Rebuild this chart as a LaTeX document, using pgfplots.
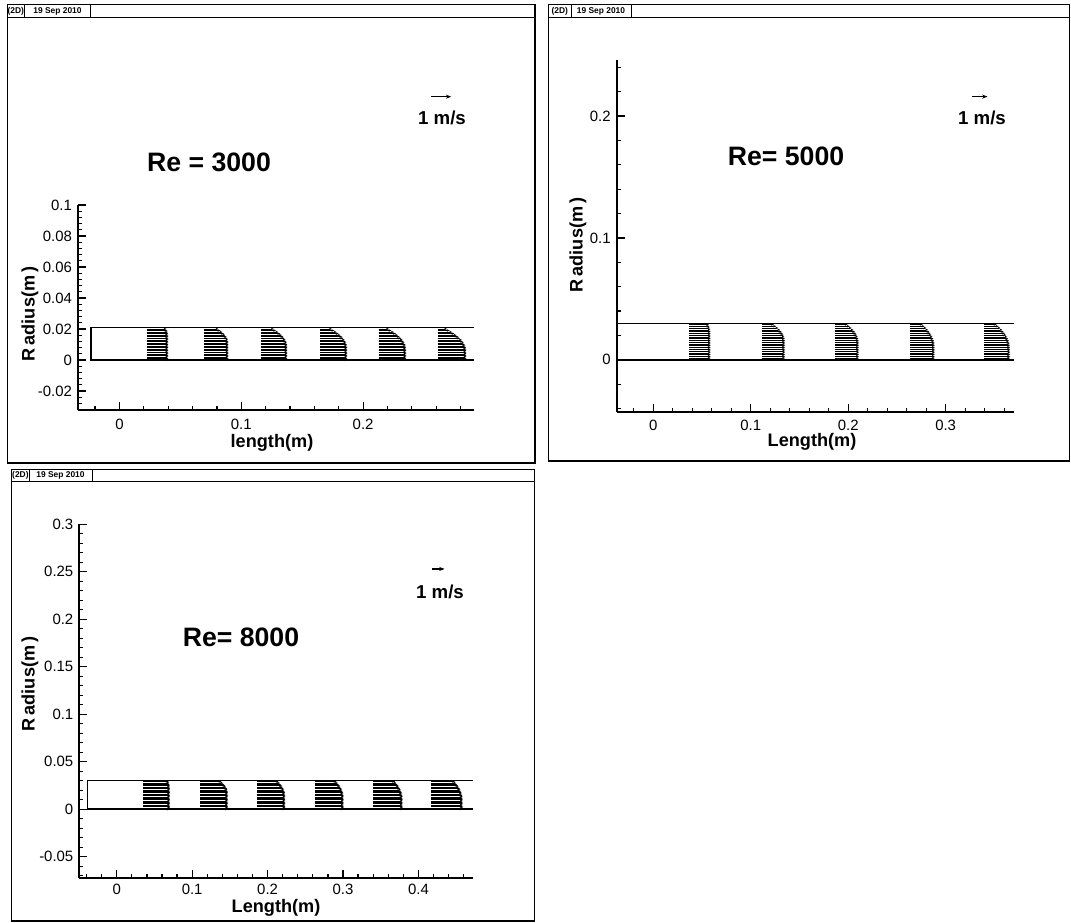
\documentclass[border=0pt]{standalone}
\usepackage{pgfplots}
\pgfplotsset{compat=1.18}
\usepackage{pgfplotstable}
\usepackage{fontspec}
\setmainfont{Liberation Sans}
\usetikzlibrary{arrows.meta}

% Re = 3000 : radius r (m) and axial velocity (m/s) at six stations
\pgfplotstableread{
r u1 u2 u3 u4 u5 u6
0.000 1.04 1.17 1.26 1.30 1.34 1.39
0.001 1.04 1.17 1.26 1.30 1.34 1.39
0.002 1.04 1.17 1.26 1.30 1.34 1.39
0.003 1.04 1.17 1.26 1.30 1.34 1.39
0.004 1.04 1.17 1.26 1.30 1.34 1.39
0.005 1.04 1.17 1.26 1.30 1.34 1.39
0.006 1.04 1.17 1.26 1.30 1.34 1.39
0.007 1.04 1.17 1.26 1.30 1.34 1.39
0.008 1.04 1.17 1.26 1.30 1.33 1.37
0.009 1.04 1.17 1.26 1.29 1.32 1.35
0.010 1.04 1.17 1.25 1.28 1.30 1.31
0.011 1.04 1.17 1.24 1.25 1.26 1.27
0.012 1.04 1.16 1.21 1.22 1.22 1.22
0.013 1.04 1.15 1.17 1.17 1.16 1.16
0.014 1.04 1.12 1.12 1.11 1.10 1.08
0.015 1.04 1.07 1.06 1.05 1.02 1.00
0.016 1.04 1.02 0.99 0.97 0.94 0.91
0.017 1.03 0.95 0.91 0.88 0.84 0.81
0.018 1.02 0.87 0.82 0.78 0.74 0.70
0.019 0.99 0.78 0.71 0.67 0.62 0.58
0.020 0.95 0.68 0.60 0.55 0.50 0.45
}\tabA

% Re = 5000
\pgfplotstableread{
r u1 u2 u3 u4 u5
0.00000 1.37 1.46 1.53 1.58 1.65
0.00145 1.37 1.46 1.53 1.58 1.65
0.00290 1.37 1.46 1.53 1.58 1.65
0.00435 1.37 1.46 1.53 1.58 1.65
0.00580 1.37 1.46 1.53 1.58 1.65
0.00725 1.37 1.46 1.53 1.58 1.65
0.00870 1.37 1.46 1.53 1.58 1.65
0.01015 1.37 1.46 1.53 1.58 1.65
0.01160 1.37 1.46 1.53 1.58 1.64
0.01305 1.37 1.46 1.53 1.57 1.63
0.01450 1.37 1.46 1.53 1.56 1.60
0.01595 1.37 1.46 1.52 1.53 1.57
0.01740 1.37 1.45 1.50 1.49 1.52
0.01885 1.37 1.42 1.46 1.44 1.46
0.02030 1.37 1.38 1.41 1.38 1.40
0.02175 1.37 1.32 1.35 1.31 1.32
0.02320 1.37 1.24 1.27 1.23 1.23
0.02465 1.35 1.14 1.17 1.14 1.14
0.02610 1.33 1.02 1.06 1.04 1.03
0.02755 1.29 0.89 0.94 0.92 0.91
0.02900 1.25 0.74 0.80 0.80 0.78
}\tabB

% Re = 8000
\pgfplotstableread{
r u1 u2 u3 u4 u5 u6
0.00000 2.15 2.25 2.25 2.30 2.41 2.55
0.00145 2.15 2.25 2.25 2.30 2.41 2.55
0.00290 2.15 2.25 2.25 2.30 2.41 2.55
0.00435 2.15 2.25 2.25 2.30 2.41 2.55
0.00580 2.15 2.25 2.25 2.30 2.41 2.55
0.00725 2.15 2.25 2.25 2.30 2.41 2.55
0.00870 2.15 2.25 2.25 2.30 2.41 2.55
0.01015 2.15 2.25 2.25 2.30 2.41 2.55
0.01160 2.15 2.25 2.25 2.30 2.41 2.55
0.01305 2.15 2.25 2.25 2.30 2.41 2.54
0.01450 2.15 2.25 2.25 2.30 2.39 2.52
0.01595 2.15 2.25 2.24 2.28 2.37 2.49
0.01740 2.15 2.25 2.23 2.26 2.34 2.46
0.01885 2.15 2.24 2.20 2.22 2.30 2.42
0.02030 2.15 2.22 2.16 2.18 2.26 2.37
0.02175 2.15 2.18 2.11 2.13 2.20 2.31
0.02320 2.15 2.12 2.05 2.07 2.14 2.25
0.02465 2.14 2.04 1.98 1.99 2.07 2.18
0.02610 2.12 1.95 1.90 1.91 1.99 2.10
0.02755 2.09 1.84 1.80 1.82 1.90 2.01
0.02900 2.05 1.72 1.70 1.72 1.80 1.92
}\tabC

\pgfplotsset{
  tecaxis/.style={
    scale only axis,
    axis lines*=left,
    tick align=inside,
    axis line style={line width=1.4pt},
    tick style={black,line width=0.9pt},
    major tick length=6pt,
    minor tick length=3pt,
    tick label style={font=\fontsize{11.2}{12}\selectfont},
    yticklabel style={xshift=-1pt},
    clip=false,
  },
  vec/.style={black, line width=0.35pt, -{Stealth[length=2.2pt,width=1.8pt]}},
  refvec/.style={black, line width=0.9pt, -{Stealth[length=4pt,width=3pt]}},
  pipe/.style={black, line width=1.1pt},
}
\newcommand\lab{\fontsize{13.6}{15}\selectfont\bfseries}
\newcommand\rel{\fontsize{20}{24}\selectfont\bfseries}
\newcommand\ms{\fontsize{14}{16}\selectfont\bfseries}
\newcommand\hdr{\fontsize{6.3}{7}\selectfont\bfseries}

\begin{document}
\begin{tikzpicture}
\useasboundingbox (0,0) rectangle (803.25pt,692.25pt);

% ---------------- Panel 1: Re = 3000
\begin{axis}[tecaxis,
  at={(58.5pt,384.75pt)}, anchor=south west,
  width=297pt, height=153.75pt,
  xmin=-0.034, xmax=0.291, ymin=-0.0323, ymax=0.1,
  xticklabel style={yshift=-3pt},
  xtick={0,0.1,0.2}, xticklabels={0,0.1,0.2},
  ytick={-0.02,0,0.02,0.04,0.06,0.08,0.1},
  yticklabels={-0.02,0,0.02,0.04,0.06,0.08,0.1},
  minor xtick={-0.02,0,...,0.28},
  minor ytick={-0.028,-0.024,...,0.097},
]
\addplot[pipe] coordinates {(0.291,0.021) (-0.0235,0.021) (-0.0235,0) (0.291,0)};
\addplot[vec, quiver={u=\thisrow{u1},v=0,scale arrows=0.017}] table[x expr=0.0225,y=r]{\tabA};
\addplot[vec, quiver={u=\thisrow{u2},v=0,scale arrows=0.017}] table[x expr=0.0697,y=r]{\tabA};
\addplot[vec, quiver={u=\thisrow{u3},v=0,scale arrows=0.017}] table[x expr=0.1165,y=r]{\tabA};
\addplot[vec, quiver={u=\thisrow{u4},v=0,scale arrows=0.017}] table[x expr=0.1650,y=r]{\tabA};
\addplot[vec, quiver={u=\thisrow{u5},v=0,scale arrows=0.017}] table[x expr=0.2127,y=r]{\tabA};
\addplot[vec, quiver={u=\thisrow{u6},v=0,scale arrows=0.017}] table[x expr=0.2612,y=r]{\tabA};
\addplot[refvec, quiver={u=1,v=0,scale arrows=0.017}] coordinates {(0.2553,0.1699)};
\end{axis}

% ---------------- Panel 2: Re = 5000
\begin{axis}[tecaxis,
  at={(462.5pt,383.5pt)}, anchor=south west,
  width=298.2pt, height=263.8pt,
  xmin=-0.0376, xmax=0.3704, ymin=-0.0425, ymax=0.246,
  xticklabel style={yshift=-2.5pt},
  xtick={0,0.1,0.2,0.3}, xticklabels={0,0.1,0.2,0.3},
  ytick={0,0.1,0.2}, yticklabels={0,0.1,0.2},
  minor xtick={-0.02,0,...,0.37},
  minor ytick={-0.04,-0.02,...,0.245},
]
\addplot[pipe] coordinates {(-0.0376,0.03) (0.3704,0.03)};
\addplot[pipe] coordinates {(-0.0376,0) (0.3704,0)};
\addplot[black, line width=2pt] coordinates {(-0.0376,0) (-0.029,0)};
\addplot[vec, quiver={u=\thisrow{u1},v=0,scale arrows=0.016}] table[x expr=0.0370,y=r]{\tabB};
\addplot[vec, quiver={u=\thisrow{u2},v=0,scale arrows=0.016}] table[x expr=0.1119,y=r]{\tabB};
\addplot[vec, quiver={u=\thisrow{u3},v=0,scale arrows=0.016}] table[x expr=0.1866,y=r]{\tabB};
\addplot[vec, quiver={u=\thisrow{u4},v=0,scale arrows=0.016}] table[x expr=0.2636,y=r]{\tabB};
\addplot[vec, quiver={u=\thisrow{u5},v=0,scale arrows=0.016}] table[x expr=0.3398,y=r]{\tabB};
\addplot[refvec, quiver={u=1,v=0,scale arrows=0.016}] coordinates {(0.3269,0.2159)};
\end{axis}

% ---------------- Panel 3: Re = 8000
\begin{axis}[tecaxis,
  at={(59.5pt,33.45pt)}, anchor=south west,
  width=295.05pt, height=265.7pt,
  xmin=-0.0496, xmax=0.472, ymin=-0.0729, ymax=0.3,
  xticklabel style={yshift=-0.5pt},
  xtick={0,0.1,0.2,0.3,0.4}, xticklabels={0,0.1,0.2,0.3,0.4},
  ytick={-0.05,0,0.05,0.1,0.15,0.2,0.25,0.3},
  yticklabels={-0.05,0,0.05,0.1,0.15,0.2,0.25,0.3},
  minor xtick={-0.04,-0.02,...,0.47},
  minor ytick={-0.07,-0.06,...,0.295},
]
\addplot[pipe] coordinates {(0.472,0.03) (-0.039,0.03) (-0.039,0) (0.472,0)};
\addplot[vec, quiver={u=\thisrow{u1},v=0,scale arrows=0.0165}] table[x expr=0.0353,y=r]{\tabC};
\addplot[vec, quiver={u=\thisrow{u2},v=0,scale arrows=0.0165}] table[x expr=0.1105,y=r]{\tabC};
\addplot[vec, quiver={u=\thisrow{u3},v=0,scale arrows=0.0165}] table[x expr=0.1865,y=r]{\tabC};
\addplot[vec, quiver={u=\thisrow{u4},v=0,scale arrows=0.0165}] table[x expr=0.2631,y=r]{\tabC};
\addplot[vec, quiver={u=\thisrow{u5},v=0,scale arrows=0.0165}] table[x expr=0.3395,y=r]{\tabC};
\addplot[vec, quiver={u=\thisrow{u6},v=0,scale arrows=0.0165}] table[x expr=0.4168,y=r]{\tabC};
\addplot[refvec, quiver={u=1,v=0,scale arrows=0.0165}] coordinates {(0.4182,0.2528)};
\end{axis}

% ---------------- frames and texts (pixel coordinates)
\begin{scope}[shift={(0pt,692.25pt)}, x=0.75pt, y=-0.75pt]
  % panel 1 frame
  \draw[line width=1.1pt] (7.3,4.7) rectangle (535,463);
  \draw[line width=0.9pt] (7.3,17.5) -- (535,17.5);
  \draw[line width=0.4pt] (24,4.7) -- (24,17.5) (90.7,4.7) -- (90.7,17.5);
  \node[font=\hdr, inner sep=0pt] at (15.8,11.4) {(2D)};
  \node[font=\hdr, inner sep=0pt] at (57.5,11.4) {19 Sep 2010};
  % panel 2 frame
  \draw[line width=1.1pt] (548.3,4.7) rectangle (1069.5,461);
  \draw[line width=0.9pt] (548.3,17.3) -- (1069.5,17.3);
  \draw[line width=0.4pt] (571,4.7) -- (571,17.3) (631,4.7) -- (631,17.3);
  \node[font=\hdr, inner sep=0pt] at (559.8,11.2) {(2D)};
  \node[font=\hdr, inner sep=0pt] at (601,11.2) {19 Sep 2010};
  % panel 3 frame
  \draw[line width=1.1pt] (11.7,469.3) rectangle (534.3,921);
  \draw[line width=0.9pt] (11.7,481.7) -- (534.3,481.7);
  \draw[line width=0.4pt] (29,469.3) -- (29,481.7) (92,469.3) -- (92,481.7);
  \node[font=\hdr, inner sep=0pt] at (20.4,475.7) {(2D)};
  \node[font=\hdr, inner sep=0pt] at (60.5,475.7) {19 Sep 2010};

  % panel 1 texts
  \node[font=\rel] at (209,162) {Re = 3000};
  \node[font=\ms] at (442,118) {1 m/s};
  \node[font=\lab, rotate=90] at (30,314) {R\,adius(m\,)};
  \node[font=\lab] at (272,443) {length(m)};
  % panel 2 texts
  \node[font=\rel] at (786,156) {Re= 5000};
  \node[font=\ms] at (982,118) {1 m/s};
  \node[font=\lab, rotate=90] at (578,245) {R\,adius(m\,)};
  \node[font=\lab] at (812,442) {Length(m)};
  % panel 3 texts
  \node[font=\rel] at (241,637) {Re= 8000};
  \node[font=\ms] at (440,592) {1 m/s};
  \node[font=\lab, rotate=90] at (30,684) {R\,adius(m\,)};
  \node[font=\lab] at (276,908) {Length(m)};
\end{scope}
\end{tikzpicture}
\end{document}
